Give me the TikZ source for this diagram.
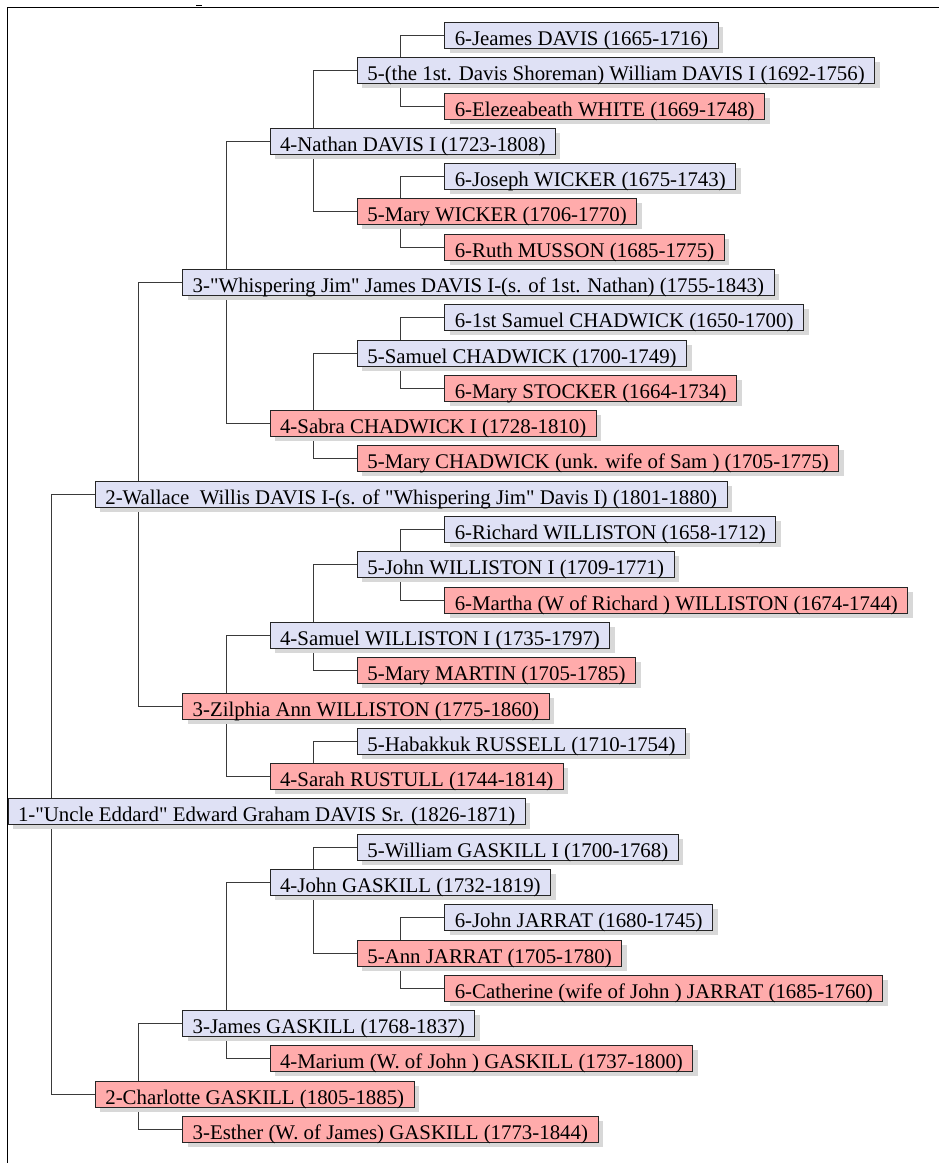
\documentclass[tikz,border=0pt]{standalone}
\usepackage{fontspec}
\setmainfont{Liberation Serif}
\usetikzlibrary{shadows}
\definecolor{mblue}{HTML}{DFE1F5}
\definecolor{fpink}{HTML}{FFABAB}
\definecolor{linec}{HTML}{3A3A3A}
\definecolor{shadc}{HTML}{D8D8D8}
\pgfdeclarelayer{bg}
\pgfsetlayers{bg,main}
\newcommand{\qd}{\textquotedbl}
\tikzset{
  person/.style={draw=black!85, line width=1pt, rectangle, anchor=west,
    inner xsep=10pt, inner ysep=0pt, text height=22.7pt, text depth=3.3pt,
    font=\fontsize{20.85}{24}\selectfont,
    drop shadow={shadow xshift=5pt, shadow yshift=-4.5pt, fill=shadc, opacity=1, draw=none}},
  male/.style={person, fill=mblue},
  female/.style={person, fill=fpink},
  link/.style={draw=linec, line width=1.1pt},
  frame/.style={draw=black, line width=1.2pt}
}
\newcommand{\rowy}[1]{\fpeval{round(35+(#1-1)*35.29)+0.5}}
\newcommand{\colx}[1]{\fpeval{7.5+(#1-1)*87.35}}
\begin{document}
\begin{tikzpicture}[x=1pt,y=-1pt]
\useasboundingbox (0,0) rectangle (939,1163);
\draw[frame] (7.5,1163) -- (7.5,7.5) -- (939,7.5);
\draw[line width=1pt] (196,5.2) -- (202,5.2);

\node[male]   (n1)  at (\colx{6},\rowy{1})  {6-Jeames DAVIS (1665-1716)};
\node[male]   (n2)  at (\colx{5},\rowy{2})  {5-(the 1st. Davis Shoreman) William DAVIS I (1692-1756)};
\node[female] (n3)  at (\colx{6},\rowy{3})  {6-Elezeabeath WHITE (1669-1748)};
\node[male]   (n4)  at (\colx{4},\rowy{4})  {4-Nathan DAVIS I (1723-1808)};
\node[male]   (n5)  at (\colx{6},\rowy{5})  {6-Joseph WICKER (1675-1743)};
\node[female] (n6)  at (\colx{5},\rowy{6})  {5-Mary WICKER (1706-1770)};
\node[female] (n7)  at (\colx{6},\rowy{7})  {6-Ruth MUSSON (1685-1775)};
\node[male]   (n8)  at (\colx{3},\rowy{8})  {3-\qd Whispering Jim\qd{} James DAVIS I-(s. of 1st. Nathan) (1755-1843)};
\node[male]   (n9)  at (\colx{6},\rowy{9})  {6-1st Samuel CHADWICK (1650-1700)};
\node[male]   (n10) at (\colx{5},\rowy{10}) {5-Samuel CHADWICK (1700-1749)};
\node[female] (n11) at (\colx{6},\rowy{11}) {6-Mary STOCKER (1664-1734)};
\node[female] (n12) at (\colx{4},\rowy{12}) {4-Sabra CHADWICK I (1728-1810)};
\node[female] (n13) at (\colx{5},\rowy{13}) {5-Mary CHADWICK (unk. wife of Sam ) (1705-1775)};
\node[male]   (n14) at (\colx{2},\rowy{14}) {2-Wallace\ \ Willis DAVIS I-(s. of \qd Whispering Jim\qd{} Davis I) (1801-1880)};
\node[male]   (n15) at (\colx{6},\rowy{15}) {6-Richard WILLISTON (1658-1712)};
\node[male]   (n16) at (\colx{5},\rowy{16}) {5-John WILLISTON I (1709-1771)};
\node[female] (n17) at (\colx{6},\rowy{17}) {6-Martha (W of Richard ) WILLISTON (1674-1744)};
\node[male]   (n18) at (\colx{4},\rowy{18}) {4-Samuel WILLISTON I (1735-1797)};
\node[female] (n19) at (\colx{5},\rowy{19}) {5-Mary MARTIN (1705-1785)};
\node[female] (n20) at (\colx{3},\rowy{20}) {3-Zilphia Ann WILLISTON (1775-1860)};
\node[male]   (n21) at (\colx{5},\rowy{21}) {5-Habakkuk RUSSELL (1710-1754)};
\node[female] (n22) at (\colx{4},\rowy{22}) {4-Sarah RUSTULL (1744-1814)};
\node[male]   (n23) at (\colx{1},\rowy{23}) {1-\qd Uncle Eddard\qd{} Edward Graham DAVIS Sr. (1826-1871)};
\node[male]   (n24) at (\colx{5},\rowy{24}) {5-William GASKILL I (1700-1768)};
\node[male]   (n25) at (\colx{4},\rowy{25}) {4-John GASKILL (1732-1819)};
\node[male]   (n26) at (\colx{6},\rowy{26}) {6-John JARRAT (1680-1745)};
\node[female] (n27) at (\colx{5},\rowy{27}) {5-Ann JARRAT (1705-1780)};
\node[female] (n28) at (\colx{6},\rowy{28}) {6-Catherine (wife of John ) JARRAT (1685-1760)};
\node[male]   (n29) at (\colx{3},\rowy{29}) {3-James GASKILL (1768-1837)};
\node[female] (n30) at (\colx{4},\rowy{30}) {4-Marium (W. of John ) GASKILL (1737-1800)};
\node[female] (n31) at (\colx{2},\rowy{31}) {2-Charlotte GASKILL (1805-1885)};
\node[female] (n32) at (\colx{3},\rowy{32}) {3-Esther (W. of James) GASKILL (1773-1844)};

\begin{pgfonlayer}{bg}
\foreach \c/\f/\m in {n2/n1/n3, n4/n2/n6, n6/n5/n7, n8/n4/n12, n10/n9/n11,
  n12/n10/n13, n14/n8/n20, n16/n15/n17, n18/n16/n19, n20/n18/n22,
  n23/n14/n31, n25/n24/n27, n27/n26/n28, n29/n25/n30, n31/n29/n32}
  \draw[link] (\f.west) -| ([xshift=44pt]\c.west) |- (\m.west);
\draw[link] (n21.west) -| ([xshift=44pt]n22.west);
\end{pgfonlayer}
\end{tikzpicture}
\end{document}
